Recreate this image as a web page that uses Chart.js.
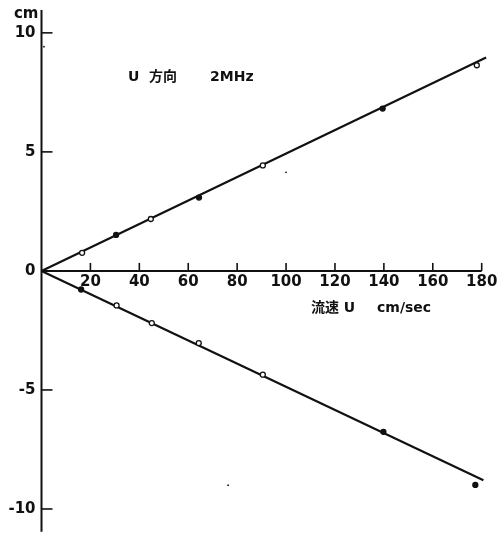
<!DOCTYPE html>
<html>
<head>
<meta charset="utf-8">
<script src="https://cdn.jsdelivr.net/npm/chart.js@4/dist/chart.umd.min.js"></script>
<style>
  html, body { margin: 0; padding: 0; background: #fff; }
  #wrap { width: 497px; height: 535px; }
</style>
</head>
<body>
<div id="wrap"><canvas id="c" width="497" height="535"></canvas></div>
<script>
// Flow speed U (cm/sec) at which each displacement was measured
const speedsUpper = [16.6, 30.5, 44.7, 64.4, 90.5, 139.5, 178.0];
const dispUpper   = [0.76, 1.51, 2.18, 3.08, 4.43, 6.82, 8.64];
const filledUpper = [false, true, false, true, false, true, false];

const speedsLower = [16.2, 30.7, 45.1, 64.3, 90.5, 139.8, 177.4];
const dispLower   = [-0.78, -1.45, -2.19, -3.03, -4.36, -6.76, -8.99];
const filledLower = [true, false, false, false, false, true, true];

// Fitted straight lines through the origin (end points)
const fitUpperX = [0, 181.8];
const fitUpperY = [0, 8.96];
const fitLowerX = [0, 180.7];
const fitLowerY = [0, -8.79];

// Small specks printed on the sheet
const speckX = [1.0, 100.0, 76.3];
const speckY = [9.42, 4.14, -9.0];

// Axis ticks
const xTicks = [20, 40, 60, 80, 100, 120, 140, 160, 180];
const yTicks = [10, 5, 0, -5, -10];
const yTickLabels = ['10', '5', '0', '-5', '-10'];

const toPts = (xs, ys) => xs.map((x, i) => ({ x: x, y: ys[i] }));
const INK = '#111';

const axesPlugin = {
  id: 'handAxes',
  afterDatasetsDraw(chart) {
    const { ctx, scales: { x, y } } = chart;
    const x0 = x.getPixelForValue(0);
    const y0 = y.getPixelForValue(0);
    ctx.save();
    ctx.strokeStyle = INK;
    ctx.fillStyle = INK;
    ctx.lineWidth = 2;
    // vertical axis
    ctx.beginPath();
    ctx.moveTo(x0, chart.chartArea.top);
    ctx.lineTo(x0, chart.chartArea.bottom + 2);
    ctx.stroke();
    // horizontal axis at zero
    ctx.beginPath();
    ctx.moveTo(x0, y0);
    ctx.lineTo(x.getPixelForValue(180), y0);
    ctx.stroke();
    // x ticks pointing up, labels below
    ctx.lineWidth = 1.6;
    ctx.font = 'bold 15px "DejaVu Sans", sans-serif';
    ctx.textAlign = 'center';
    ctx.textBaseline = 'middle';
    xTicks.forEach(v => {
      const px = x.getPixelForValue(v);
      ctx.beginPath();
      ctx.moveTo(px, y0);
      ctx.lineTo(px, y0 - 8);
      ctx.stroke();
      ctx.fillText(String(v), px, y0 + 11);
    });
    // y ticks pointing right, labels on the left
    ctx.textAlign = 'right';
    yTicks.forEach((v, i) => {
      const py = y.getPixelForValue(v);
      if (v !== 0) {
        ctx.beginPath();
        ctx.moveTo(x0, py);
        ctx.lineTo(x0 + 11, py);
        ctx.stroke();
      }
      ctx.fillText(yTickLabels[i], x0 - 6, py);
    });
    // unit on top of the vertical axis
    ctx.fillText('cm', x0 - 3, 14);
    // annotations
    ctx.textAlign = 'left';
    ctx.font = 'bold 14px "DejaVu Sans", "Noto Sans CJK JP", sans-serif';
    ctx.fillText('U', 128, 77);
    ctx.fillText('方向', 149, 77);
    ctx.fillText('2MHz', 210, 77);
    ctx.fillText('流速 U', 311, 308);
    ctx.fillText('cm/sec', 377, 308);
    ctx.restore();
  }
};

const markerColors = flags => flags.map(f => (f ? INK : '#fff'));

new Chart(document.getElementById('c'), {
  type: 'scatter',
  data: {
    datasets: [
      {
        data: toPts(fitUpperX, fitUpperY),
        showLine: true, borderColor: INK, borderWidth: 2.2,
        pointRadius: 0, clip: false, order: 2
      },
      {
        data: toPts(fitLowerX, fitLowerY),
        showLine: true, borderColor: INK, borderWidth: 2.2,
        pointRadius: 0, clip: false, order: 2
      },
      {
        data: toPts(speedsUpper, dispUpper),
        pointRadius: 2.5, pointBorderWidth: 1.3,
        pointBorderColor: INK, pointBackgroundColor: markerColors(filledUpper),
        clip: false, order: 1
      },
      {
        data: toPts(speedsLower, dispLower),
        pointRadius: 2.5, pointBorderWidth: 1.3,
        pointBorderColor: INK, pointBackgroundColor: markerColors(filledLower),
        clip: false, order: 1
      },
      {
        data: toPts(speckX, speckY),
        pointRadius: 0.9, pointBorderWidth: 0,
        pointBackgroundColor: INK, clip: false, order: 1
      }
    ]
  },
  options: {
    responsive: false,
    animation: false,
    layout: { padding: { left: 41.5, right: 15.3, top: 10, bottom: 0 } },
    plugins: { legend: { display: false }, tooltip: { enabled: false } },
    scales: {
      x: { type: 'linear', min: 0, max: 180, display: false },
      y: { type: 'linear', min: -10.87, max: 10.96, display: false }
    }
  },
  plugins: [axesPlugin]
});
</script>
</body>
</html>
